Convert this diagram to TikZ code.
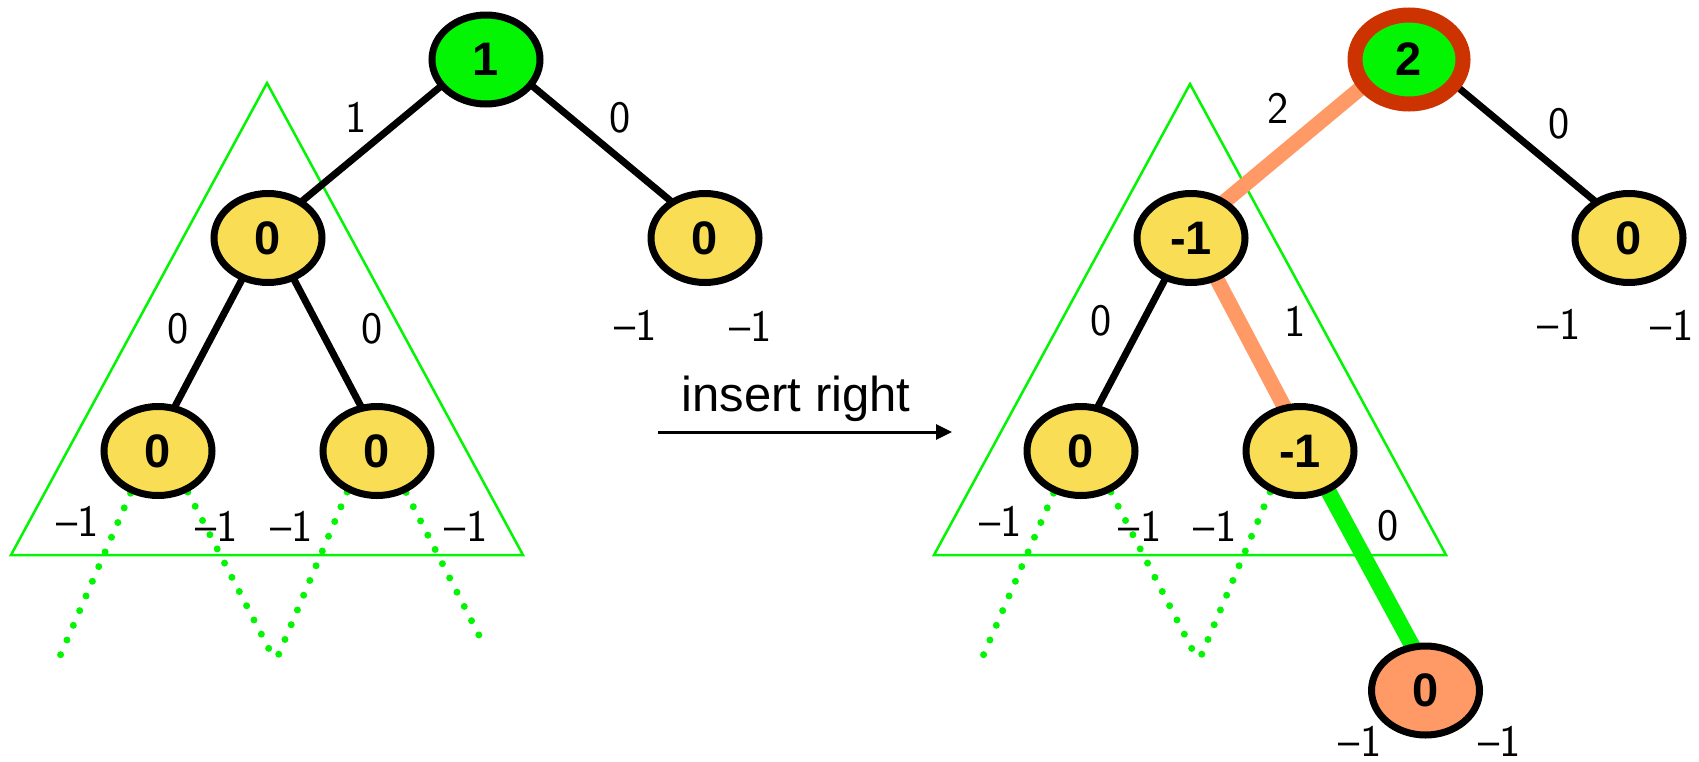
\documentclass[tikz,border=0pt]{standalone}
\usepackage{fontspec}
\usetikzlibrary{shapes.geometric,arrows.meta}
\newfontfamily\arialfont{Liberation Sans}
\newcommand\myNodeFont{\arialfont\bfseries\fontsize{47}{50}\selectfont}
\newcommand\myLabelFont{\sffamily\fontsize{45}{48}\selectfont}
\newcommand\myArrowFont{\arialfont\fontsize{49}{52}\selectfont}
\definecolor{nodeyellow}{RGB}{249,221,84}
\definecolor{brightgreen}{RGB}{4,245,4}
\definecolor{salmon}{RGB}{255,153,102}
\definecolor{rootred}{RGB}{204,51,0}
\pgfdeclarelayer{bg}
\pgfsetlayers{bg,main}
\tikzset{
  tnode/.style={ellipse, draw=black, line width=7pt, minimum width=108pt, minimum height=89pt, inner sep=0pt, fill=nodeyellow, font=\myNodeFont},
  rootL/.style={tnode, fill=brightgreen},
  rootR/.style={tnode, fill=brightgreen, draw=rootred, line width=15pt},
  newnode/.style={tnode, fill=salmon},
  elabel/.style={font=\myLabelFont, inner sep=0pt},
  blackedge/.style={draw=black, line width=7pt, shorten <=-12pt, shorten >=-12pt},
  hotedge/.style={draw=salmon, line width=15pt, shorten <=-12pt, shorten >=-12pt},
  newedge/.style={draw=brightgreen, line width=16pt, shorten <=-12pt, shorten >=-12pt},
  leafdots/.style={draw=brightgreen, line width=7pt, line cap=round, dash pattern=on 0pt off 16pt},
  subtree/.style={draw=brightgreen, line width=2.5pt, line join=miter},
}
\begin{document}
\begin{tikzpicture}[x=1pt,y=-1pt]
\useasboundingbox (0,0) rectangle (1699,761);

% ---------- left tree nodes ----------
\node[rootL] (L0) at (486,59.5) {1};
\node[tnode] (L1) at (268,238) {0};
\node[tnode] (L2) at (705,238) {0};
\node[tnode] (L3) at (158,451) {0};
\node[tnode] (L4) at (377,451) {0};

% ---------- right tree nodes ----------
\node[rootR] (R0) at (1409,59.5) {2};
\node[tnode] (R1) at (1191,238) {-1};
\node[tnode] (R2) at (1629,238) {0};
\node[tnode] (R3) at (1081,451) {0};
\node[tnode] (R4) at (1300,451) {-1};
\node[newnode] (R5) at (1425.5,690.5) {0};

% free ends
\coordinate (dl1) at (60,656);
\coordinate (dl2) at (269,649);
\coordinate (dl3) at (278,656);
\coordinate (dl4) at (486,649);
\coordinate (dr1) at (983,656);
\coordinate (dr2) at (1192,649);
\coordinate (dr3) at (1201,656);
\coordinate (arrS) at (658,432);
\coordinate (arrE) at (952,432);

\begin{pgfonlayer}{bg}
  \fill[white] (0,0) rectangle (1699,761);
  % subtree triangles
  \draw[subtree] (267,83) -- (11,555) -- (523,555) -- cycle;
  \draw[subtree] (1190,84) -- (934,555) -- (1446,555) -- cycle;
  % left edges
  \draw[blackedge] (L0.-149) -- (L1.47);
  \draw[blackedge] (L0.-30.5) -- (L2.133);
  \draw[blackedge] (L1.-122) -- (L3.69);
  \draw[blackedge] (L1.-58) -- (L4.110);
  % right edges
  \draw[hotedge] (R0.-149) -- (R1.47);
  \draw[blackedge] (R0.-30.5) -- (R2.133);
  \draw[blackedge] (R1.-122) -- (R3.69);
  \draw[hotedge] (R1.-58) -- (R4.110);
  \draw[newedge] (R4.-55) -- (R5.107);
  % dotted leaves
  \draw[leafdots] (L3.-123) -- (dl1);
  \draw[leafdots] (L3.-54) -- (dl2);
  \draw[leafdots] (L4.-126) -- (dl3);
  \draw[leafdots] (L4.-55) -- (dl4);
  \draw[leafdots] (R3.-123) -- (dr1);
  \draw[leafdots] (R3.-54) -- (dr2);
  \draw[leafdots] (R4.-126) -- (dr3);
\end{pgfonlayer}

% ---------- edge labels left ----------
\node[elabel] (la) at (356,117.5) {1};
\node[elabel] (lb) at (619.6,117.5) {0};
\node[elabel] (lc) at (178,329) {0};
\node[elabel] (ld) at (372,329) {0};
\node[elabel] (le) at (635.7,325) {\textendash1};
\node[elabel] (lf) at (750.7,326) {\textendash1};
\node[elabel] (lg) at (77.7,521.7) {\textendash1};
\node[elabel] (lh) at (216.6,526.7) {\textendash1};
\node[elabel] (li) at (291.5,526.7) {\textendash1};
\node[elabel] (lj) at (466,526.7) {\textendash1};

% ---------- edge labels right ----------
\node[elabel] (ra) at (1278,108) {2};
\node[elabel] (rb) at (1559,124) {0};
\node[elabel] (rc) at (1100.8,321) {0};
\node[elabel] (rd) at (1295,321) {1};
\node[elabel] (re) at (1559,324) {\textendash1};
\node[elabel] (rf) at (1672,325) {\textendash1};
\node[elabel] (rg) at (1000.6,521.7) {\textendash1};
\node[elabel] (rh) at (1140,526.7) {\textendash1};
\node[elabel] (ri) at (1215,526.7) {\textendash1};
\node[elabel] (rj) at (1388,526) {0};
\node[elabel] (rk) at (1360,741) {\textendash1};
\node[elabel] (rl) at (1499.5,741) {\textendash1};

% ---------- arrow ----------
\draw[line width=3pt, -{Triangle[length=16pt,width=15pt]}] (arrS) -- (arrE);
\node[anchor=base, font=\myArrowFont, inner sep=0pt] (ins) at (796,411.7) {insert right};
\end{tikzpicture}
\end{document}
